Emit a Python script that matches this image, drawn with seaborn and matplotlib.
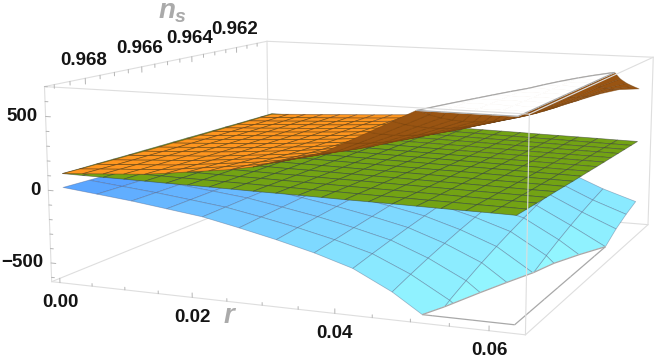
import numpy as np
import matplotlib
matplotlib.use('Agg')
import matplotlib.pyplot as plt
from matplotlib.axes import Axes
from matplotlib.transforms import offset_copy
import seaborn as sns
from collections import Counter
from mpl_toolkits.mplot3d import proj3d
from mpl_toolkits.mplot3d.art3d import Poly3DCollection, Line3DCollection

# --- data: heights; rows run from the front (high n_s) to the back, columns along r
orange_z = [
 [106,116,126,136,146,163,183,202,221,249,289,329,369,444,520,597,674,895,1151,1709,2300],
 [102,112,122,131,141,157,175,193,211,236,271,307,343,409,477,547,618,815,1043,1526,2038],
 [99,108,118,127,137,152,168,184,201,224,255,288,321,379,439,504,569,745,947,1366,1809],
 [96,105,115,124,133,147,162,177,193,213,242,271,301,352,406,466,526,684,864,1226,1608],
 [94,103,112,121,130,143,157,171,185,204,230,257,283,329,378,432,488,630,791,1103,1432],
 [91,100,109,118,127,139,152,165,179,196,219,244,268,308,352,403,455,584,727,996,1279],
 [89,98,107,116,124,136,148,160,173,190,210,233,255,290,330,378,426,542,671,902,1144],
 [88,96,105,114,122,133,144,156,169,183,202,223,243,275,311,356,400,507,622,819,1026],
 [86,95,103,112,120,131,141,153,164,178,195,214,233,261,294,336,378,475,580,747,923],
 [85,93,102,110,119,128,139,149,161,174,189,207,224,249,279,319,359,448,542,684,833],
 [84,92,101,109,117,127,136,146,157,169,183,200,217,238,266,304,342,424,509,629,754],
 [83,91,99,108,116,125,134,144,154,166,179,194,210,229,255,291,327,402,481,581,685],
 [82,90,98,107,115,123,132,142,152,163,175,189,204,221,245,280,314,384,456,539,605],
 [81,89,97,106,114,122,131,140,150,160,171,185,199,214,237,270,303,368,434,502,548],
 [81,89,97,105,113,121,129,138,148,158,168,181,194,208,229,261,293,354,414,470,500],
 [80,88,96,104,112,120,128,137,146,156,165,178,190,202,222,253,284,341,398,441,455],
]
green_z = [
 [106,104,103,102,100,98,97,96,94,92,91,90,88,86,85,84,82,80,79,78,76],
 [104,103,101,100,98,96,95,93,92,90,89,87,86,84,82,81,79,78,76,75,73],
 [103,101,99,98,96,94,93,91,90,88,86,85,83,81,80,78,77,75,73,72,70],
 [101,99,98,96,94,93,91,89,87,86,84,82,81,79,77,76,74,72,71,69,67],
 [99,98,96,94,92,91,89,87,85,84,82,80,78,77,75,73,72,70,68,66,65],
 [98,96,94,92,91,89,87,85,83,82,80,78,76,75,73,71,69,67,66,64,62],
 [96,94,93,91,89,87,85,83,82,80,78,76,74,72,70,69,67,65,63,61,59],
 [95,93,91,89,87,86,84,82,80,78,76,74,72,70,68,67,65,63,61,59,57],
 [94,92,90,88,86,84,82,80,78,76,74,72,70,68,66,64,62,60,58,56,55],
 [92,90,88,86,84,82,80,78,76,74,72,70,68,66,64,62,60,58,56,54,52],
 [91,89,87,85,83,81,79,77,75,73,71,68,66,64,62,60,58,56,54,52,50],
 [90,88,85,83,81,79,77,75,73,71,69,67,65,63,60,58,56,54,52,50,48],
 [88,86,84,82,80,78,76,73,71,69,67,65,63,61,59,56,54,52,50,48,46],
 [87,85,83,81,79,76,74,72,70,68,65,63,61,59,57,55,52,50,48,46,44],
 [86,84,82,79,77,75,73,71,68,66,64,62,60,57,55,53,51,49,46,44,42],
 [85,83,81,78,76,74,72,69,67,65,63,60,58,56,54,51,49,47,45,42,40],
]
blue_z = [
 [11,-15,-41,-73,-105,-156,-211,-273,-349,-474,-638,-864,-1350],
 [5,-19,-43,-72,-102,-148,-198,-256,-325,-436,-580,-788,-1213],
 [-1,-23,-45,-71,-99,-142,-187,-241,-303,-401,-528,-719,-1089],
 [-6,-26,-47,-71,-97,-136,-178,-227,-283,-370,-480,-656,-977],
 [-10,-29,-48,-70,-94,-130,-169,-214,-265,-341,-437,-599,-875],
 [-15,-32,-50,-70,-92,-125,-160,-202,-249,-316,-398,-548,-784],
 [-18,-35,-51,-69,-90,-121,-153,-192,-234,-292,-363,-502,-670],
 [-22,-37,-52,-69,-88,-117,-146,-182,-221,-271,-331,-460,-598],
 [-25,-39,-53,-68,-87,-113,-140,-174,-209,-252,-302,-422,-530],
 [-27,-41,-54,-68,-85,-110,-135,-166,-198,-235,-276,-388,-480],
 [-30,-42,-55,-68,-84,-107,-130,-159,-188,-220,-252,-357,-440],
]
R_MAX = 0.0627; NS_FRONT = 0.9691; NS_BACK = 0.96065
Z_TOP = 672.0; Z_BOTTOM = -598.0
r_ticks = [0, .02, .04, .06]; r_labels = ['0.00', '0.02', '0.04', '0.06']
ns_ticks = [.962, .964, .966, .968]; ns_labels = ['0.962', '0.964', '0.966', '0.968']
z_ticks = [-500, 0, 500]; z_labels = ['\u2212500', '0', '500']
r_minor = [0, .005, .01, .015, .02, .025, .03, .035, .04, .045, .05, .055, .06]
ns_minor = [.961, .9615, .962, .9625, .963, .9635, .964, .9645, .965, .9655, .966, .9665, .967, .9675, .968, .9685, .969]
z_minor = [-600, -500, -400, -300, -200, -100, 0, 100, 200, 300, 400, 500, 600, 700]

sns.set_theme(style='white')
plt.rcParams['font.family'] = ['Liberation Sans', 'DejaVu Sans']
plt.rcParams['font.weight'] = 'bold'
plt.rcParams['mathtext.fontset'] = 'custom'
plt.rcParams['mathtext.it'] = 'Liberation Sans:italic:bold'

xl = (-0.0013, 0.0645); yl = (0.9693, 0.9605); zl = (-630., 700.)
fig = plt.figure(figsize=(6.54, 3.64), dpi=100)
ax = fig.add_subplot(projection='3d', computed_zorder=False)
ax.set_xlim(*xl); ax.set_ylim(*yl); ax.set_zlim(*zl)
ax.view_init(10.007, -67.62)
ax.set_proj_type('persp', focal_length=0.44)
ax.set_box_aspect((1, 0.9973, 0.3986))
s, tx, ty = 3534.73, 373.07, 161.77
x0, x1 = Axes.get_xlim(ax); y0, y1 = Axes.get_ylim(ax)
W = s * (x1 - x0)
ax.set_position([(tx + s * x0) / 654, (364 - ty + s * y0) / 364, W / 654, W / 364])
M = ax.get_proj()

def clip(pts, zc, below):
    out = []
    n = len(pts)
    for i in range(n):
        a, b = pts[i], pts[(i + 1) % n]
        ia = (a[2] <= zc) if below else (a[2] >= zc)
        ib = (b[2] <= zc) if below else (b[2] >= zc)
        if ia:
            out.append(a)
        if ia != ib:
            t = (zc - a[2]) / (b[2] - a[2])
            out.append(tuple(np.array(a) + t * (np.array(b) - np.array(a))))
    return out

def facing(q):
    h = np.array([[p[0], p[1], p[2], 1.0] for p in q])
    w = (M @ h.T).T
    xy = w[:, :2] / w[:, 3:4]
    x, y = xy[:, 0], xy[:, 1]
    return 0.5 * np.sum(x * np.roll(y, -1) - np.roll(x, -1) * y) > 0

def surface(values, top, under, limit, is_top, z, edge, under_edge=None):
    Z = np.array(values, float)
    nv, nu = Z.shape
    rs = np.linspace(0, R_MAX, nu); ns = np.linspace(NS_FRONT, NS_BACK, nv)
    polys = []; fc = []; ec = []; plate = []
    for j in range(nv - 1):
        for i in range(nu - 1):
            q = [(rs[i], ns[j], Z[j, i]), (rs[i + 1], ns[j], Z[j, i + 1]),
                 (rs[i + 1], ns[j + 1], Z[j + 1, i + 1]), (rs[i], ns[j + 1], Z[j + 1, i])]
            u = (i + .5) / (nu - 1); v = (j + .5) / (nv - 1)
            up = facing(q)
            keep = clip(q, limit, is_top)
            if len(keep) >= 3:
                polys.append(keep)
                fc.append(top(u, v) if up else under(u, v))
                ec.append(edge if up or under_edge is None else under_edge)
            cap = clip(q, limit, not is_top)
            if len(cap) >= 3:
                cap = [(p[0], p[1], limit) for p in cap]
                polys.append(cap); fc.append((1, 1, 1, 1)); ec.append((1, 1, 1, 1)); plate.append(cap)
    ax.add_collection3d(Poly3DCollection(polys, facecolors=fc, edgecolors=ec, linewidths=0.55, zorder=z), autolim=False)
    cnt = Counter()
    for p in plate:
        for a, b in zip(p, p[1:] + p[:1]):
            ka = tuple(np.round(a, 7)); kb = tuple(np.round(b, 7))
            if ka != kb:
                cnt[tuple(sorted((ka, kb)))] += 1
    seg = [k for k, n in cnt.items() if n == 1]
    if seg:
        ax.add_collection3d(Line3DCollection(seg, colors='#a8a8a8', linewidths=0.9, zorder=z + .5), autolim=False)

def lerp(a, b, t):
    return tuple(np.array(a) + (np.array(b) - np.array(a)) * min(max(t, 0), 1))

bluef = lambda u, v: lerp((0.35, 0.64, 1, 1), (0.6, 1, 1, 1), 1.1 * u - 0.3 * v)
greenf = lambda u, v: (0.45, 0.64, 0.08, 1)
surface(blue_z, bluef, bluef, Z_BOTTOM, False, 2, (0.25, 0.3, 0.45, 0.38))
surface(green_z, greenf, greenf, Z_TOP, True, 3, (0.2, 0.22, 0.2, 0.55))
surface(orange_z, lambda u, v: (1, 0.59, 0.12, 1), lambda u, v: (0.6, 0.33, 0.07, 1), Z_TOP, True, 4,
        (0.3, 0.2, 0.1, 0.55), (0.45, 0.25, 0.05, 0.5))

L = '#dedede'
X = [xl[0], xl[1]]; Y = [yl[0], yl[1]]; Zs = [zl[0], zl[1]]
for b in Y:
    for c in Zs:
        ax.plot(X, [b, b], [c, c], color=L, lw=.8, zorder=5 if b == yl[0] else 1)
for a in X:
    for c in Zs:
        ax.plot([a, a], Y, [c, c], color=L, lw=.8, zorder=5 if a == xl[1] else 1)
for a in X:
    for b in Y:
        ax.plot([a, a], [b, b], Zs, color=L, lw=.8, zorder=5 if (a == xl[1] and b == yl[0]) else 1)

ax.set_xticks([]); ax.set_yticks([]); ax.set_zticks([])
ax.set_axis_off()
ax.set_xlim(*xl); ax.set_ylim(*yl); ax.set_zlim(*zl)

TC = '#b4b4b4'
def is_major(v, ts):
    return any(abs(v - t) < 1e-7 for t in ts)
for v in r_minor:
    d = 30 if is_major(v, r_ticks) else 18
    ax.plot([v, v], [yl[0]] * 2, [zl[0], zl[0] + d], color=TC, lw=.7, zorder=6)
for v in ns_minor:
    d = 40 if is_major(v, ns_ticks) else 25
    ax.plot([xl[0]] * 2, [v, v], [zl[1], zl[1] - d], color=TC, lw=.7, zorder=6)
for v in z_minor:
    d = .00075 if is_major(v, z_ticks) else .00045
    ax.plot([xl[0], xl[0] + d], [yl[0]] * 2, [v, v], color=TC, lw=.7, zorder=6)

FS = 13.5; TXT = '#141414'
def label(x, y, z, t, dx, dy, ha):
    xp, yp, _ = proj3d.proj_transform(x, y, z, M)
    ax.text2D(xp, yp, t, transform=offset_copy(ax.transData, fig=fig, x=dx, y=dy, units='dots'),
              ha=ha, va='center', fontsize=FS, color=TXT, zorder=8)
for v, t in zip(r_ticks, r_labels):
    label(v, yl[0], zl[0], t, 0, -20, 'center')
for v, t in zip(ns_ticks, ns_labels):
    label(xl[0], v, zl[1], t, -2, 18, 'center')
for v, t in zip(z_ticks, z_labels):
    label(xl[0], yl[0], v, t, -8, 0, 'right')
fig.text(230 / 654, 1 - 316 / 364, '$\\mathit{r}$', color='#aaaaaa', fontsize=20, ha='center', va='center')
fig.text(173 / 654, 1 - 12 / 364, '$\\mathit{n}_{\\mathit{s}}$', color='#aaaaaa', fontsize=20, ha='center', va='center')
fig.savefig('out.png', dpi=100)
